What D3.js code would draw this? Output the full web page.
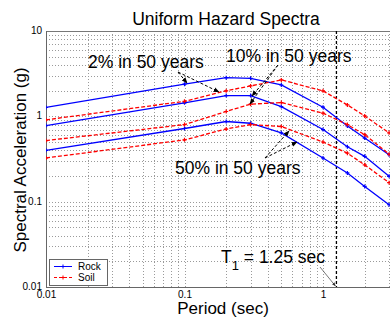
<!DOCTYPE html>
<html>
<head>
<meta charset="utf-8">
<script src="https://cdn.jsdelivr.net/npm/d3@7"></script>
<style>
  body { margin: 0; background: #fff; }
  svg { display: block; font-family: "Liberation Sans", Arial, sans-serif; }
</style>
</head>
<body>
<svg id="chart" width="390" height="320"></svg>
<script>
// data (spectral acceleration in g)
var periods = [0.01, 0.1, 0.2, 0.3, 0.5, 1.0, 1.5, 2.0, 3.0];
var rock2  = [1.27, 2.38, 2.84, 2.79, 2.33, 1.28, 0.77, 0.556, 0.355];
var soil2  = [0.91, 1.50, 1.99, 2.27, 2.67, 1.99, 1.36, 1.01, 0.64];
var rock10 = [0.78, 1.44, 1.75, 1.75, 1.30, 0.70, 0.44, 0.34, 0.198];
var soil10 = [0.52, 0.80, 1.14, 1.39, 1.45, 1.09, 0.80, 0.61, 0.36];
var rock50 = [0.40, 0.72, 0.87, 0.83, 0.64, 0.325, 0.217, 0.151, 0.092];
var soil50 = [0.325, 0.53, 0.71, 0.80, 0.76, 0.50, 0.37, 0.27, 0.167];

var xTicks = [0.01, 0.1, 1];
var yTicks = [0.01, 0.1, 1, 10];
var T1 = 1.25;

var svg = d3.select("#chart");

// plot box (top/left are window globals, so use other names)
var pL = 46, pR = 390, pT = 31, pB = 287;
var x = d3.scaleLog().domain([0.01, 10]).range([pL, pL + 3 * 138.5]);
var y = d3.scaleLog().domain([0.01, 10]).range([pB, pT]);

var defs = svg.append("defs");
defs.append("clipPath").attr("id", "plotclip")
    .append("rect").attr("x", pL).attr("y", pT)
    .attr("width", pR - pL).attr("height", pB - pT);
defs.append("marker").attr("id", "arrow")
    .attr("viewBox", "0 0 10 10").attr("refX", 9).attr("refY", 5)
    .attr("markerWidth", 6).attr("markerHeight", 6).attr("orient", "auto")
    .attr("markerUnits", "userSpaceOnUse")
    .append("path").attr("d", "M0,1L10,5L0,9Z").attr("fill", "#000");
defs.append("marker").attr("id", "arrowthin")
    .attr("viewBox", "0 0 10 10").attr("refX", 9).attr("refY", 5)
    .attr("markerWidth", 4).attr("markerHeight", 4).attr("orient", "auto")
    .attr("markerUnits", "userSpaceOnUse")
    .append("path").attr("d", "M0,1L10,5L0,9Z").attr("fill", "#333");

// grid lines: 1..9 per decade
var gx = [], gy = [];
[0.01, 0.1, 1].forEach(function(d) {
    for (var i = 1; i < 10; i++) { if (d * i <= 3.05) gx.push(d * i); }
});
[0.01, 0.1, 1].forEach(function(d) {
    for (var i = 1; i <= 10; i++) gy.push(d * i);
});

var grid = svg.append("g").attr("clip-path", "url(#plotclip)");
grid.selectAll(".gx").data(gx).enter().append("line")
    .attr("x1", function(d) { return Math.round(x(d)) + 0.5; })
    .attr("x2", function(d) { return Math.round(x(d)) + 0.5; })
    .attr("y1", pT).attr("y2", pB)
    .attr("stroke", "#9a9a9a").attr("stroke-width", 1).attr("stroke-dasharray", "1,2");
grid.selectAll(".gy").data(gy).enter().append("line")
    .attr("x1", pL).attr("x2", pR)
    .attr("y1", function(d) { return Math.round(y(d)) + 0.5; })
    .attr("y2", function(d) { return Math.round(y(d)) + 0.5; })
    .attr("stroke", "#9a9a9a").attr("stroke-width", 1).attr("stroke-dasharray", "1,2");

// frame
svg.append("line").attr("x1", pL).attr("x2", pR).attr("y1", pT + 0.5).attr("y2", pT + 0.5)
    .attr("stroke", "#777").attr("stroke-width", 1);

// axes
var xAxis = svg.append("g").attr("transform", "translate(0," + pB + ")")
    .call(d3.axisBottom(x).tickValues(xTicks).tickSize(0).tickPadding(4)
        .tickFormat(function(d) { return String(d); }));
var yAxis = svg.append("g").attr("transform", "translate(" + pL + ",0)")
    .call(d3.axisLeft(y).tickValues(yTicks).tickSize(0).tickPadding(4)
        .tickFormat(function(d) { return String(d); }));
xAxis.select(".domain").attr("d", "M" + pL + ",0.5H" + pR).attr("stroke", "#666");
yAxis.select(".domain").attr("d", "M0.5," + pT + "V" + pB).attr("stroke", "#666");
[xAxis, yAxis].forEach(function(a) {
    a.selectAll("text").attr("font-family", "Liberation Sans, Arial, sans-serif")
        .attr("font-size", 10).attr("fill", "#000");
});
yAxis.selectAll("text").attr("dy", "0.25em");

// T1 line
svg.append("line").attr("x1", x(T1)).attr("x2", x(T1)).attr("y1", pT).attr("y2", pB)
    .attr("stroke", "#000").attr("stroke-width", 1.3).attr("stroke-dasharray", "3,2");

// curves
var series = [
    { vals: rock2, color: "#0000ff", dash: null },
    { vals: rock10, color: "#0000ff", dash: null },
    { vals: rock50, color: "#0000ff", dash: null },
    { vals: soil2, color: "#ff0000", dash: "4,2" },
    { vals: soil10, color: "#ff0000", dash: "4,2" },
    { vals: soil50, color: "#ff0000", dash: "4,2" }
];
var line = d3.line()
    .x(function(d) { return x(d[0]); })
    .y(function(d) { return y(d[1]); });

var plot = svg.append("g").attr("clip-path", "url(#plotclip)");
series.forEach(function(s) {
    var pts = periods.map(function(p, i) { return [p, s.vals[i]]; });
    plot.append("path").datum(pts).attr("d", line)
        .attr("fill", "none").attr("stroke", s.color).attr("stroke-width", 1.3)
        .attr("stroke-dasharray", s.dash);
    plot.selectAll(null).data(pts).enter().append("path")
        .attr("transform", function(d) { return "translate(" + x(d[0]) + "," + y(d[1]) + ")"; })
        .attr("d", "M-2,0H2M0,-2V2")
        .attr("stroke", s.color).attr("stroke-width", 1.2);
});

// annotations
function arrow(x1, y1, x2, y2) {
    svg.append("line").attr("x1", x1).attr("y1", y1).attr("x2", x2).attr("y2", y2)
        .attr("stroke", "#000").attr("stroke-width", 1).attr("stroke-dasharray", "3,2")
        .attr("marker-end", "url(#arrow)");
}
svg.append("text").attr("x", 88).attr("y", 68).attr("font-size", 17.5).text("2% in 50 years");
arrow(178, 72, 187, 83);
arrow(178, 72, 219, 92);

svg.append("text").attr("x", 226).attr("y", 62).attr("font-size", 17.5).text("10% in 50 years");
arrow(278, 65, 252, 96);
arrow(278, 65, 250, 104);

svg.append("text").attr("x", 175).attr("y", 174).attr("font-size", 17.5).text("50% in 50 years");
arrow(265, 158, 289, 131);
arrow(265, 158, 297, 142);

var t1 = svg.append("text").attr("x", 221).attr("y", 263).attr("font-size", 17.5);
t1.append("tspan").text("T");
t1.append("tspan").attr("dy", 7).attr("font-size", 13).text("1");
t1.append("tspan").attr("dy", -7).text(" = 1.25 sec");
svg.append("line").attr("x1", 320).attr("y1", 267).attr("x2", x(T1) - 1).attr("y2", 286)
    .attr("stroke", "#555").attr("stroke-width", 0.8).attr("marker-end", "url(#arrowthin)");

// titles
svg.append("text").attr("x", 226).attr("y", 25).attr("text-anchor", "middle")
    .attr("font-size", 17.5).text("Uniform Hazard Spectra");
svg.append("text").attr("x", 223).attr("y", 314).attr("text-anchor", "middle")
    .attr("font-size", 17).text("Period (sec)");
svg.append("text").attr("transform", "translate(26,160) rotate(-90)")
    .attr("text-anchor", "middle").attr("font-size", 17).text("Spectral Acceleration (g)");

// legend
var lg = svg.append("g");
lg.append("rect").attr("x", 49.5).attr("y", 259.5).attr("width", 58).attr("height", 26)
    .attr("fill", "#fff").attr("stroke", "#666");
[{ name: "Rock", color: "#0000ff", dash: null, yy: 266.5 },
 { name: "Soil", color: "#ff0000", dash: "3,2", yy: 277.5 }].forEach(function(d) {
    lg.append("line").attr("x1", 54).attr("x2", 72).attr("y1", d.yy).attr("y2", d.yy)
        .attr("stroke", d.color).attr("stroke-width", 1).attr("stroke-dasharray", d.dash);
    lg.append("path").attr("transform", "translate(63," + d.yy + ")").attr("d", "M-2,0H2M0,-2V2")
        .attr("stroke", d.color).attr("stroke-width", 1);
    lg.append("text").attr("x", 78).attr("y", d.yy + 3.5).attr("font-size", 10).text(d.name);
});
</script>
</body>
</html>
